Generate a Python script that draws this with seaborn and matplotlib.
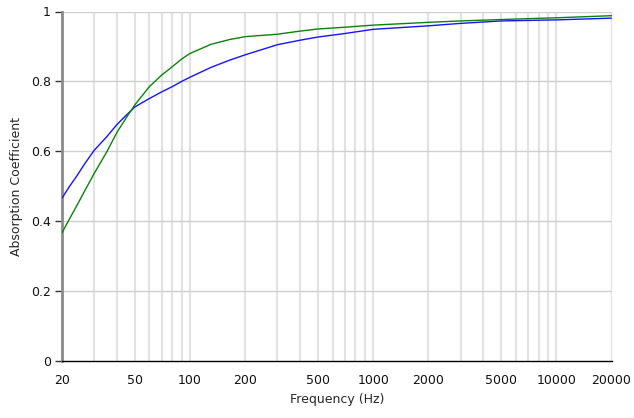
#!/usr/bin/env python3
"""Absorption coefficient vs frequency, two materials on a log axis."""

import matplotlib
matplotlib.use("Agg")
import matplotlib.pyplot as plt
from matplotlib.ticker import FixedLocator, NullFormatter
import pandas as pd
import seaborn as sns

# values
freq = [20, 22, 24, 26.5, 30, 35, 40, 45, 50, 60, 70, 80, 90, 100, 130, 165, 200,
        300, 400, 500, 700, 1000, 2000, 3000, 5000, 10000, 20000]
blue_alpha = [0.466, 0.500, 0.528, 0.563, 0.603, 0.641, 0.677, 0.704, 0.727, 0.751,
              0.770, 0.785, 0.800, 0.812, 0.840, 0.861, 0.876, 0.905, 0.918, 0.927,
              0.937, 0.949, 0.959, 0.966, 0.973, 0.976, 0.981]
green_alpha = [0.367, 0.407, 0.443, 0.485, 0.537, 0.597, 0.655, 0.697, 0.733, 0.785,
               0.818, 0.842, 0.864, 0.880, 0.906, 0.920, 0.928, 0.935, 0.944, 0.950,
               0.955, 0.961, 0.969, 0.973, 0.977, 0.982, 0.988]

x_ticks = [20, 50, 100, 200, 500, 1000, 2000, 5000, 10000, 20000]
y_ticks = [0, 0.2, 0.4, 0.6, 0.8, 1.0]
y_labels = ["0", "0.2", "0.4", "0.6", "0.8", "1"]


def main() -> None:
    df = pd.concat([
        pd.DataFrame({"freq": freq, "alpha": blue_alpha, "material": "blue"}),
        pd.DataFrame({"freq": freq, "alpha": green_alpha, "material": "green"}),
    ], ignore_index=True)

    sns.set_style("white")
    plt.rcParams["font.family"] = ["DejaVu Sans"]

    fig = plt.figure(figsize=(6.34, 4.18), dpi=100)
    ax = fig.add_axes([62 / 634, 57 / 418, 549.5 / 634, 349.5 / 418])

    # grid: every 1-2-...-9 decade line, horizontal at 0.2 steps
    grid_x = [m * 10 ** e for e in range(1, 5) for m in range(1, 10)]
    grid_x = [g for g in grid_x if 20 < g <= 20000] + [20000]
    for g in grid_x:
        ax.axvline(g, color="#e2e2e2", lw=1.5, zorder=0)
    for v in y_ticks[1:]:
        ax.axhline(v, color="#d0d0d0", lw=1.0, zorder=0)

    sns.lineplot(data=df, x="freq", y="alpha", hue="material",
                 palette={"blue": "#1414ff", "green": "#0b820b"},
                 linewidth=1.0, legend=False, ax=ax, zorder=3)

    ax.set_xscale("log")
    ax.set_xlim(20, 20000)
    ax.set_ylim(0, 1)

    ax.xaxis.set_major_locator(FixedLocator(x_ticks))
    ax.set_xticklabels([str(t) for t in x_ticks])
    ax.xaxis.set_minor_locator(FixedLocator([20, 20000]))
    ax.xaxis.set_minor_formatter(NullFormatter())
    ax.tick_params(left=True, bottom=True)
    ax.tick_params(axis="x", which="major", length=0, pad=9, labelsize=9)
    ax.tick_params(axis="x", which="minor", bottom=True, length=4, width=1, color="#666666")
    ax.set_yticks(y_ticks)
    ax.set_yticklabels(y_labels)
    ax.tick_params(axis="y", length=5, width=1, color="#333333", pad=3, labelsize=9)
    ax.tick_params(axis="both", labelcolor="#111111")

    for side in ("top", "right"):
        ax.spines[side].set_visible(False)
    ax.spines["left"].set_color("#8a8a8a")
    ax.spines["left"].set_linewidth(2.0)
    ax.spines["bottom"].set_color("#000000")
    ax.spines["bottom"].set_linewidth(1.0)

    ax.set_xlabel("Frequency (Hz)", fontsize=9, labelpad=5)
    ax.set_ylabel("Absorption Coefficient", fontsize=9)
    ax.yaxis.set_label_coords(-0.071, 0.5)

    fig.savefig("out.png", dpi=100)
    plt.close(fig)


if __name__ == "__main__":
    main()
